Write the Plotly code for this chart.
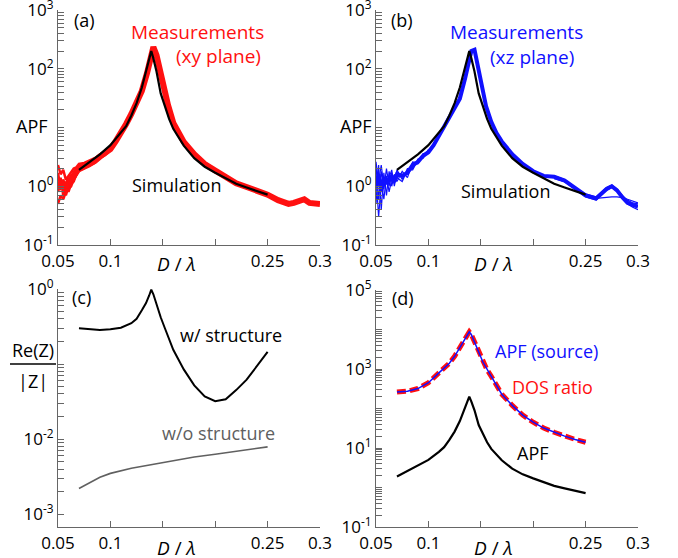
import plotly.graph_objects as go

# ---------------- data ----------------
MEAS_X = [0.05, 0.0525, 0.055, 0.0575, 0.06, 0.0625, 0.065, 0.0675, 0.07, 0.075,
          0.08, 0.085, 0.09, 0.095, 0.1, 0.105, 0.11, 0.115, 0.12, 0.125,
          0.13, 0.135, 0.138, 0.141, 0.144, 0.147, 0.15, 0.155, 0.16, 0.165,
          0.17, 0.18, 0.19, 0.2, 0.21, 0.22, 0.23, 0.24, 0.25, 0.26,
          0.27, 0.275, 0.28, 0.285, 0.29, 0.295, 0.3]

RED_MAIN = [1.2, 1.0, 1.1, 0.95, 1.2, 1.3, 1.5, 1.8, 2.0, 2.2,
            2.4, 2.7, 3.2, 3.6, 4.3, 5.8, 8.0, 11.5, 17, 26,
            42, 85, 150, 235, 170, 95, 55, 24, 12, 7.8,
            5.7, 3.5, 2.4, 1.85, 1.42, 1.12, 0.97, 0.86, 0.72, 0.58,
            0.50, 0.52, 0.55, 0.60, 0.52, 0.50, 0.50]

LOW_X = [0.05, 0.0525, 0.055, 0.0575, 0.06, 0.0625, 0.065, 0.0675, 0.07, 0.075,
         0.08, 0.085, 0.09, 0.095, 0.1]
RED_LOW_1 = [2.3, 1.6, 1.9, 1.3, 1.5, 1.7, 2.0, 2.1, 2.4, 2.5, 2.7, 3.0, 3.4, 3.9, 4.6]
RED_LOW_2 = [0.5, 0.7, 0.6, 0.8, 0.9, 1.0, 1.3, 1.5, 1.8, 2.0, 2.2, 2.5, 3.0, 3.4, 4.1]
RED_LOW_3 = [0.8, 1.4, 0.7, 1.1, 0.8, 1.1, 1.2, 1.6, 1.9, 2.3, 2.6, 2.9, 3.5, 3.8, 4.4]
RED_LOW_4 = [1.7, 0.9, 1.3, 0.7, 1.0, 1.5, 1.7, 1.9, 2.2, 2.1, 2.5, 2.8, 3.1, 3.7, 4.3]

BLUE_MAIN = [1.0, 1.6, 0.8, 1.4, 1.1, 1.3, 1.5, 1.2, 1.6, 1.5,
             1.7, 2.3, 2.6, 3.3, 3.8, 5.0, 7.2, 10, 15, 21,
             31, 68, 120, 200, 210, 110, 55, 23, 12.5, 8.0,
             5.8, 3.5, 2.4, 1.8, 1.5, 1.45, 1.25, 0.92, 0.70, 0.62,
             0.90, 1.0, 0.85, 0.65, 0.52, 0.48, 0.45]
BLUE_LOW_1 = [2.2, 0.6, 1.8, 0.9, 2.0, 1.0, 1.7, 1.1, 1.9, 1.3, 2.0, 2.0, 2.9, 3.0, 4.2]
BLUE_LOW_2 = [0.5, 2.3, 0.4, 1.7, 0.7, 1.8, 1.0, 1.6, 1.2, 1.8, 1.4, 2.5, 2.4, 3.6, 3.6]
BLUE_LOW_3 = [1.5, 0.3, 1.2, 0.6, 1.5, 0.8, 1.3, 1.4, 1.4, 1.2, 1.9, 1.9, 2.8, 3.1, 4.0]
BLUE_LOW_4 = [2.6, 1.2, 2.3, 1.0, 1.3, 1.4, 1.9, 1.0, 1.7, 1.6, 1.6, 2.6, 2.5, 3.5, 3.9]

HIGH_X = [0.22, 0.23, 0.24, 0.25, 0.26, 0.27, 0.275, 0.28, 0.285, 0.29, 0.295, 0.3]
BLUE_HIGH_1 = [1.35, 1.2, 0.88, 0.66, 0.58, 0.85, 0.95, 0.82, 0.62, 0.50, 0.44, 0.40]
BLUE_HIGH_2 = [1.5, 1.3, 0.95, 0.74, 0.66, 0.95, 1.05, 0.90, 0.70, 0.58, 0.52, 0.50]
BLUE_HIGH_3 = [1.4, 1.2, 0.9, 0.70, 0.62, 0.65, 0.66, 0.66, 0.64, 0.60, 0.55, 0.52]

SIM_X = [0.07, 0.08, 0.09, 0.1, 0.11, 0.115, 0.12, 0.125, 0.13, 0.134, 0.137, 0.139,
         0.141, 0.144, 0.148, 0.152, 0.156, 0.16, 0.17, 0.18, 0.19, 0.2, 0.21,
         0.22, 0.23, 0.24, 0.25]
SIM_Y = [1.9, 2.6, 3.5, 5.0, 8.0, 10.5, 16, 26, 48, 90, 145, 200,
         150, 90, 38, 22, 14, 9.5, 4.9, 3.0, 2.15, 1.7, 1.35,
         1.1, 0.95, 0.82, 0.72]

DOS_Y = [260, 275, 320, 450, 800, 1050, 1400, 2100, 3500, 5500, 7500, 8700,
         7400, 5000, 2700, 1500, 950, 650, 230, 120, 68, 45, 32,
         25, 20, 16.5, 14]

WS_X = [0.07, 0.08, 0.09, 0.1, 0.11, 0.12, 0.125, 0.13, 0.134, 0.137, 0.139, 0.141,
        0.144, 0.148, 0.152, 0.16, 0.17, 0.18, 0.19, 0.2, 0.21, 0.22, 0.23, 0.24, 0.25]
WS_Y = [0.30, 0.29, 0.285, 0.29, 0.305, 0.35, 0.40, 0.52, 0.65, 0.82, 0.98, 0.85,
        0.62, 0.42, 0.30, 0.155, 0.085, 0.052, 0.037, 0.032, 0.034, 0.045, 0.062, 0.095, 0.145]

WO_X = [0.07, 0.08, 0.09, 0.1, 0.12, 0.14, 0.16, 0.18, 0.2, 0.22, 0.25]
WO_Y = [0.0022, 0.0026, 0.0031, 0.0035, 0.0041, 0.0046, 0.0052, 0.0058, 0.0063, 0.0069, 0.0079]

X_TICKS = [0.05, 0.1, 0.15, 0.2, 0.25, 0.3]
X_TICKTEXT = ["0.05", "0.1", "", "", "0.25", "0.3"]

# y tick exponents and which are labelled
EXP_AB = [-1, 0, 1, 2, 3]
LAB_AB = [True, True, False, True, True]
EXP_C = [-3, -2, -1, 0]
LAB_C = [True, True, False, True]
EXP_D = [-1, 0, 1, 2, 3, 4, 5]
LAB_D = [True, False, True, False, True, False, True]

# ---------------- figure ----------------
W, H = 678, 558
FONT = "Open Sans"
RED, BLUE, BLACK, GRAY = "#ff1010", "#1010ff", "#000000", "#606060"
AX = "#666666"

def fx(px):
    return px / W

def fy(py):
    return 1 - py / H

fig = go.Figure()

def add(x, y, color, width, ax, dash=None):
    fig.add_trace(go.Scatter(x=x, y=y, mode="lines", xaxis=ax[0], yaxis=ax[1],
                             line=dict(color=color, width=width, dash=dash),
                             showlegend=False, hoverinfo="skip"))

A, B, C, D = ("x", "y"), ("x2", "y2"), ("x3", "y3"), ("x4", "y4")

# (a)
for v in (RED_LOW_1, RED_LOW_2, RED_LOW_3, RED_LOW_4):
    add(LOW_X, v, RED, 2.5, A)
add(MEAS_X, RED_MAIN, RED, 6, A)
add(SIM_X, SIM_Y, BLACK, 2.2, A)

# (b)
for v in (BLUE_LOW_1, BLUE_LOW_2, BLUE_LOW_3, BLUE_LOW_4):
    add(LOW_X, v, BLUE, 1.2, B)
for v in (BLUE_HIGH_1, BLUE_HIGH_2, BLUE_HIGH_3):
    add(HIGH_X, v, BLUE, 1.2, B)
add(MEAS_X, BLUE_MAIN, BLUE, 4, B)
add(SIM_X, SIM_Y, BLACK, 2.2, B)

# (c)
add(WS_X, WS_Y, BLACK, 2, C)
add(WO_X, WO_Y, GRAY, 1.6, C)

# (d)
add(SIM_X, DOS_Y, RED, 5, D, dash="9px,4px")
add(SIM_X, DOS_Y, BLUE, 1.5, D)
add(SIM_X, SIM_Y, BLACK, 2.2, D)

LEFT_PX, RIGHT_PX = 58, 376
xd_left = [fx(LEFT_PX), fx(320)]
xd_right = [fx(RIGHT_PX), fx(638)]
yd_top = [fy(245), fy(10)]
yd_bot = [fy(527), fy(289)]
yd_d = [fy(527), fy(290)]

xcommon = dict(range=[0.05, 0.3], tickmode="array", tickvals=X_TICKS, ticktext=X_TICKTEXT,
               ticks="inside", ticklen=6, tickcolor=AX, tickwidth=1.2, automargin=False,
               ticklabeloverflow="allow",
               showline=True, linecolor=AX, linewidth=1.2, showgrid=False, zeroline=False,
               tickfont=dict(family=FONT, size=17, color=BLACK))

def yaxis(domain, rng, exps, labs, anchor):
    # decade ticks (labelled where the reference labels them) plus unlabelled 2..9 ticks
    vals, text = [], []
    for i, e in enumerate(exps):
        vals.append(10.0 ** e)
        text.append(("10<sup>%d</sup>" % e) if labs[i] else "")
        if i < len(exps) - 1:
            for m in range(2, 10):
                vals.append(m * 10.0 ** e)
                text.append("")
    return dict(domain=domain, type="log", range=rng, anchor=anchor, automargin=False,
                ticklabeloverflow="allow",
                tickmode="array", tickvals=vals, ticktext=text,
                ticks="inside", ticklen=6, tickcolor=AX, tickwidth=1,
                showline=True, linecolor=AX, linewidth=1.2, showgrid=False, zeroline=False,
                tickfont=dict(family=FONT, size=17, color=BLACK))

fig.update_layout(
    width=W, height=H, margin=dict(l=0, r=0, t=0, b=0),
    paper_bgcolor="white", plot_bgcolor="white",
    font=dict(family=FONT, size=16, color=BLACK),
    xaxis=dict(domain=xd_left, anchor="y", **xcommon),
    xaxis2=dict(domain=xd_right, anchor="y2", **xcommon),
    xaxis3=dict(domain=xd_left, anchor="y3", **xcommon),
    xaxis4=dict(domain=xd_right, anchor="y4", **xcommon),
    yaxis=yaxis(yd_top, [-1, 3], EXP_AB, LAB_AB, "x"),
    yaxis2=yaxis(yd_top, [-1, 3], EXP_AB, LAB_AB, "x2"),
    yaxis3=yaxis(yd_bot, [-3.17, 0], EXP_C, LAB_C, "x3"),
    yaxis4=yaxis(yd_d, [-1, 5], EXP_D, LAB_D, "x4"),
)

def txt(text, px, py, color=BLACK, size=18):
    fig.add_annotation(text=text, x=fx(px), y=fy(py), xref="paper", yref="paper",
                       showarrow=False, xanchor="center", yanchor="middle",
                       font=dict(family=FONT, size=size, color=color))

# panel labels
txt("(a)", 84, 20)
txt("(b)", 402, 20)
txt("(c)", 81, 297)
txt("(d)", 403, 298)

# axis titles
for py in (264, 548):
    txt("<i>D</i> / <i>λ</i>", 176, py, size=19)
    txt("<i>D</i> / <i>λ</i>", 494, py, size=19)
txt("APF", 32, 126)
txt("APF", 356, 126)
txt("Re(Z)", 33, 350)
txt("|Z|", 33, 381)
fig.add_shape(type="line", xref="paper", yref="paper", x0=fx(10), x1=fx(56),
              y0=fy(364), y1=fy(364), line=dict(color=BLACK, width=1.5))

# in-panel labels
txt("Measurements", 197, 32, RED, 19)
txt("(xy plane)", 218, 56, RED, 19)
txt("Simulation", 177, 185)
txt("Measurements", 516, 32, BLUE, 19)
txt("(xz plane)", 532, 57, BLUE, 19)
txt("Simulation", 506, 191)
txt("w/ structure", 231, 335)
txt("w/o structure", 218, 433, GRAY)
txt("APF (source)", 546, 351, BLUE)
txt("DOS ratio", 552, 387, RED)
txt("APF", 533, 453)

# remove the default 8px page margin so the figure fills the window exactly
fig.write_html("out.html", config={"displayModeBar": False},
               post_script="document.body.style.margin='0px';document.body.style.overflow='hidden';")
